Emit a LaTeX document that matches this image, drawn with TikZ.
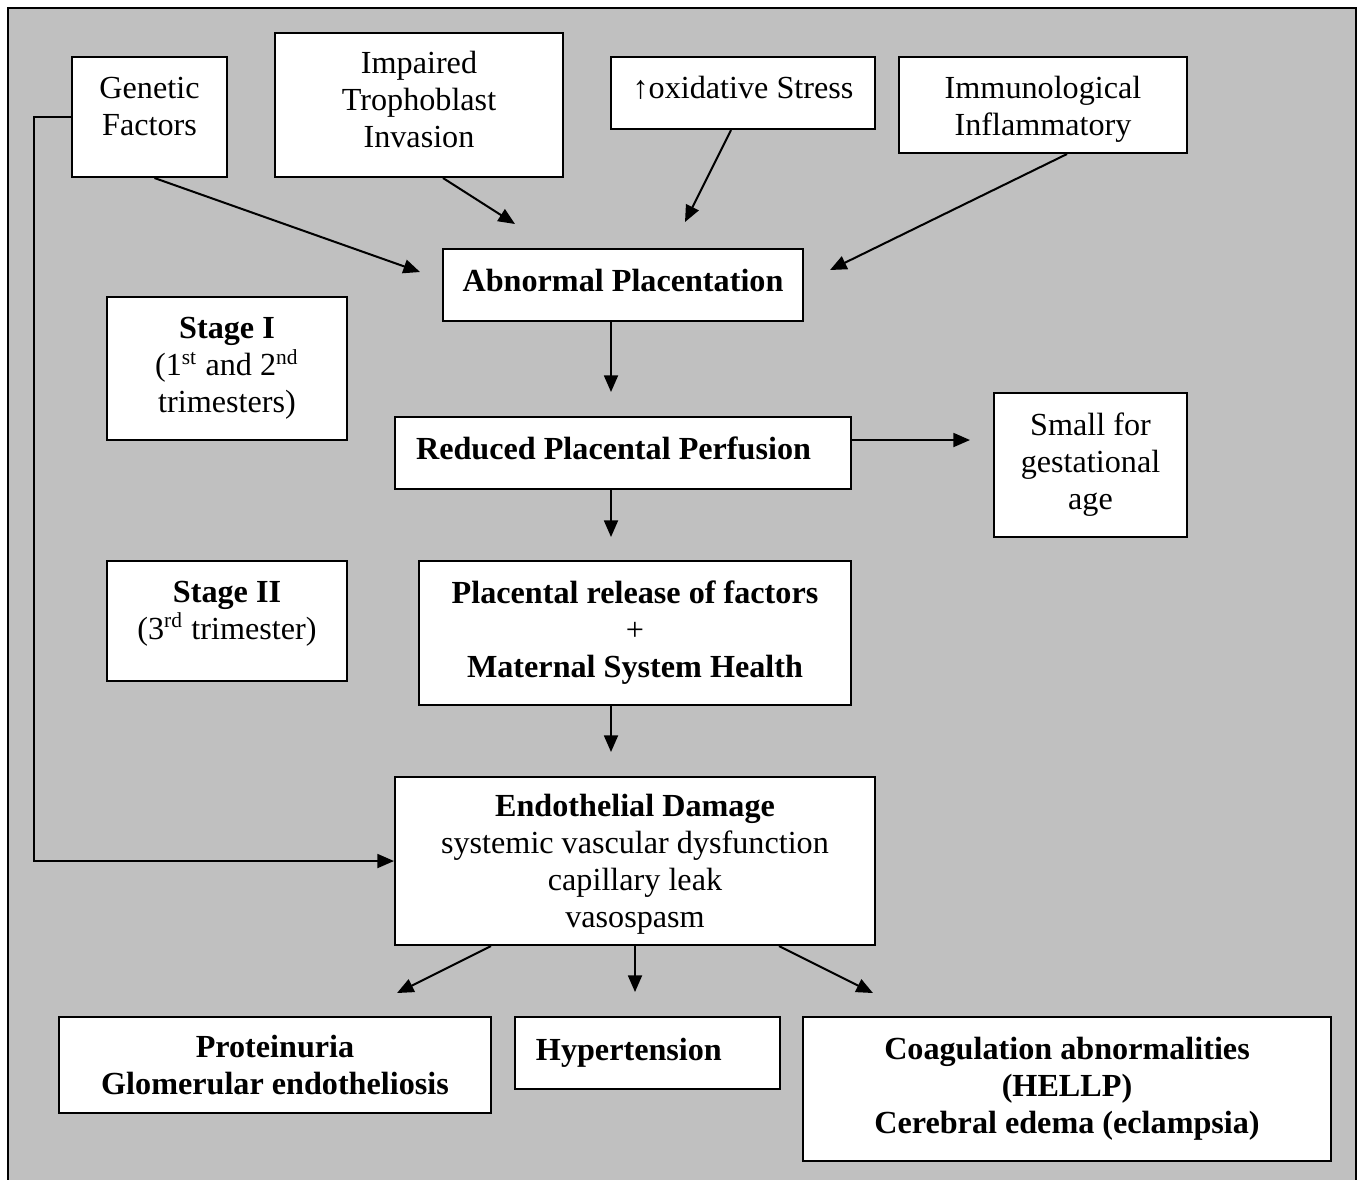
\documentclass[tikz,border=0pt]{standalone}
\usepackage{fontspec}
\setmainfont{Liberation Serif}
\usepackage{xcolor}
\usetikzlibrary{arrows.meta,calc}
\definecolor{panelgray}{RGB}{192,192,192}
\newcommand{\px}{0.373pt}
\newcommand{\lowpad}[1]{\rule[-#1]{0pt}{#1}}
\newcommand{\toppad}[1]{\rule{0pt}{#1}}
\tikzset{
  box/.style={draw, line width=0.75pt, fill=white, inner sep=0pt, align=center,
              font=\fontsize{12}{13.8}\selectfont},
  bbox/.style={box, font=\fontsize{12}{13.8}\selectfont\bfseries},
  sz/.style 2 args={minimum width=#1*\px, minimum height=#2*\px},
  lbox/.style={align=flush left, inner xsep=7.83pt, text width=#1},
  arr/.style={-{Triangle[length=6.2pt,width=5.2pt]}, line width=0.75pt}
}

\begin{document}
\begin{tikzpicture}[x=\px, y=-\px]
    \useasboundingbox (0,0) rectangle (1364,1179);
    \clip (0,0) rectangle (1364,1179);
    \draw[line width=0.75pt, fill=panelgray] (8,8) rectangle (1356,1200);

    % causes
    \node[box, sz={155}{120}] (gen) at (149.5,117) {Genetic\\Factors\lowpad{8.2pt}};
    \node[box, sz={288}{144}] (imp) at (419,105) {Impaired\\Trophoblast\\Invasion\lowpad{4.5pt}};
    \node[box, sz={264}{72}] (oxi) at (743,93) {↑oxidative Stress\lowpad{4.5pt}};
    \node[box, sz={288}{96}] (imm) at (1043,105) {\toppad{11.9pt}Immunological\\Inflammatory};

    % main chain
    \node[bbox, sz={360}{72}] (abn) at (623,285) {Abnormal Placentation\lowpad{3.7pt}};
    \node[bbox, sz={456}{72}, lbox=154.4pt] (red) at (623,453) {Reduced Placental Perfusion\lowpad{3.7pt}};
    \node[box, sz={193}{144}] (sga) at (1090.5,465) {Small for\\gestational\\age};
    \node[box, sz={432}{144}] (rel) at (635,633)
      {\textbf{Placental release of factors}\\+\\\textbf{Maternal System Health}};
    \node[box, sz={480}{168}] (endo) at (635,861)
      {\toppad{11.1pt}\textbf{Endothelial Damage}\\systemic vascular dysfunction\\capillary leak\\vasospasm};

    % stages
    \node[box, sz={240}{143}] (st1) at (227,368.5)
      {\textbf{Stage I}\\(1\textsuperscript{st} and 2\textsuperscript{nd}\\trimesters)};
    \node[box, sz={240}{120}] (st2) at (227,621)
      {\textbf{Stage II}\\(3\textsuperscript{rd} trimester)\lowpad{8.2pt}};

    % outcomes
    \node[bbox, sz={432}{96}] (prot) at (275,1065) {Proteinuria\\Glomerular endotheliosis};
    \node[bbox, sz={265}{72}, lbox=83.2pt] (hyp) at (647.5,1053) {Hypertension};
    \node[bbox, sz={528}{144}] (coag) at (1067,1089)
      {Coagulation abnormalities\\(HELLP)\\Cerebral edema (eclampsia)};

    % arrow tips
    \foreach \n/\x/\y in {t1/420/272, t2/515/224, t3/685/222, t4/830/270, t5/611/392,
                          t6/970/440, t7/611/537, t8/611/752, t9/397/993, t10/635/992, t11/873/993}
      \coordinate (\n) at (\x,\y);

    \draw[arr] ($(gen.south)+(5,0)$) -- (t1);
    \draw[arr] ($(imp.south)+(24,0)$) -- (t2);
    \draw[arr] ($(oxi.south)+(-12,0)$) -- (t3);
    \draw[arr] ($(imm.south)+(24,0)$) -- (t4);
    \draw[arr] (abn.south -| t5) -- (t5);
    \draw[arr] (red.east |- t6) -- (t6);
    \draw[arr] (red.south -| t7) -- (t7);
    \draw[arr] (rel.south -| t8) -- (t8);
    \foreach \dx/\t in {-144/t9, 0/t10, 144/t11}
      \draw[arr] ($(endo.south)+(\dx,0)$) -- (\t);
    \draw[arr] (gen.west) -- ++(-37,0) |- (endo.west);
  \end{tikzpicture}
\end{document}
